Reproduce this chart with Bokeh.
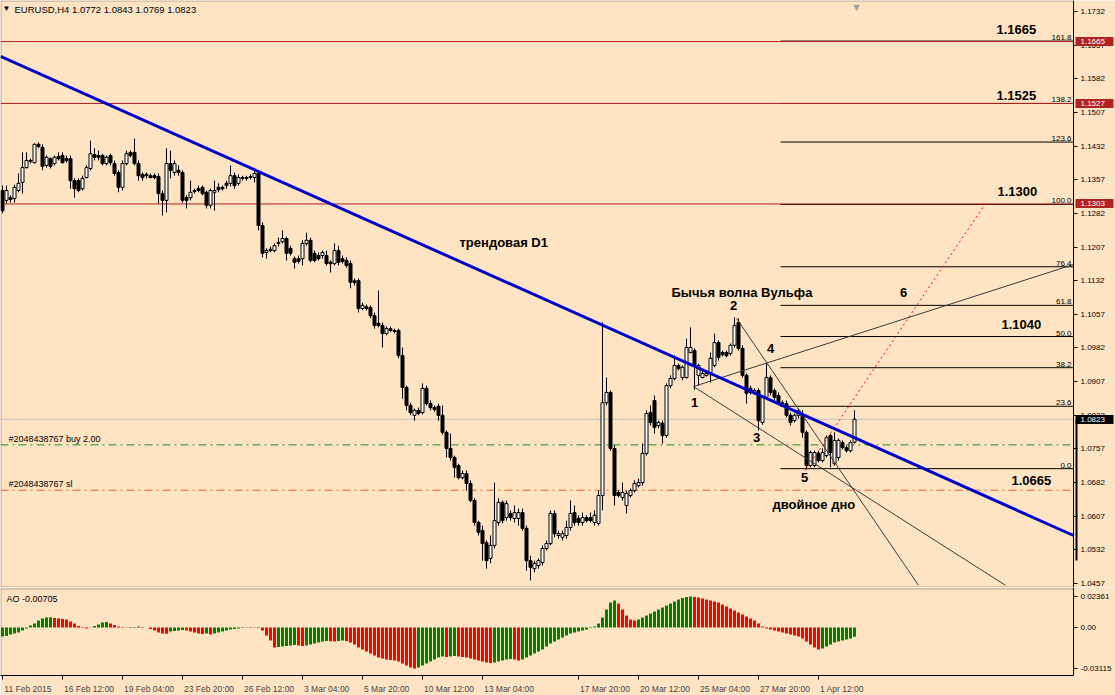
from bokeh.plotting import figure
from bokeh.layouts import column
from bokeh.models import Range1d, FixedTicker, Label, ColumnDataSource, LinearAxis, BoxAnnotation
from bokeh.embed import file_html
from bokeh.resources import INLINE

# ---------------- data (EURUSD H4) ----------------
opens = [1.1333, 1.1311, 1.1317, 1.1315, 1.1333, 1.1351, 1.1384, 1.1400, 1.1395, 1.1436,
         1.1429, 1.1389, 1.1404, 1.1393, 1.1409, 1.1411, 1.1404, 1.1404, 1.1355, 1.1355,
         1.1337, 1.1362, 1.1382, 1.1413, 1.1411, 1.1411, 1.1393, 1.1411, 1.1393, 1.1373,
         1.1340, 1.1393, 1.1418, 1.1418, 1.1393, 1.1369, 1.1369, 1.1366, 1.1366, 1.1364,
         1.1326, 1.1311, 1.1393, 1.1373, 1.1378, 1.1373, 1.1317, 1.1317, 1.1333, 1.1337,
         1.1340, 1.1329, 1.1300, 1.1329, 1.1340, 1.1340, 1.1349, 1.1349, 1.1366, 1.1349,
         1.1362, 1.1362, 1.1364, 1.1362, 1.1371, 1.1255, 1.1195, 1.1199, 1.1199, 1.1215,
         1.1219, 1.1226, 1.1204, 1.1181, 1.1181, 1.1181, 1.1215, 1.1222, 1.1193, 1.1188,
         1.1188, 1.1188, 1.1173, 1.1170, 1.1199, 1.1181, 1.1177, 1.1170, 1.1132, 1.1132,
         1.1070, 1.1074, 1.1072, 1.1054, 1.1037, 1.1032, 1.1014, 1.1025, 1.1021, 1.1021,
         1.0965, 1.0894, 1.0854, 1.0832, 1.0843, 1.0838, 1.0892, 1.0858, 1.0849, 1.0852,
         1.0832, 1.0794, 1.0758, 1.0738, 1.0720, 1.0693, 1.0702, 1.0680, 1.0642, 1.0593,
         1.0575, 1.0548, 1.0513, 1.0542, 1.0593, 1.0638, 1.0604, 1.0613, 1.0602, 1.0602,
         1.0615, 1.0580, 1.0508, 1.0490, 1.0497, 1.0504, 1.0535, 1.0546, 1.0613, 1.0564,
         1.0560, 1.0564, 1.0582, 1.0615, 1.0602, 1.0593, 1.0604, 1.0604, 1.0593, 1.0591,
         1.0653, 1.0860, 1.0883, 1.0758, 1.0660, 1.0649, 1.0631, 1.0653, 1.0664, 1.0675,
         1.0682, 1.0747, 1.0838, 1.0865, 1.0809, 1.0814, 1.0787, 1.0898, 1.0914, 1.0943,
         1.0916, 1.0916, 1.0972, 1.0976, 1.0921, 1.0916, 1.0921, 1.0927, 1.0943, 1.0994,
         1.0972, 1.0972, 1.0970, 1.0988, 1.1039, 1.0981, 1.0921, 1.0892, 1.0883, 1.0887,
         1.0816, 1.0872, 1.0916, 1.0887, 1.0876, 1.0858, 1.0858, 1.0832, 1.0820, 1.0832,
         1.0832, 1.0794, 1.0720, 1.0720, 1.0747, 1.0731, 1.0742, 1.0787, 1.0724, 1.0738,
         1.0771, 1.0760, 1.0753, 1.0772]
highs = [1.1344, 1.1344, 1.1322, 1.1346, 1.1371, 1.1418, 1.1418, 1.1404, 1.1438, 1.1440,
         1.1436, 1.1411, 1.1407, 1.1411, 1.1418, 1.1418, 1.1411, 1.1411, 1.1360, 1.1360,
         1.1366, 1.1389, 1.1444, 1.1427, 1.1422, 1.1415, 1.1411, 1.1415, 1.1400, 1.1378,
         1.1400, 1.1422, 1.1422, 1.1449, 1.1400, 1.1373, 1.1373, 1.1371, 1.1371, 1.1371,
         1.1333, 1.1427, 1.1422, 1.1400, 1.1389, 1.1378, 1.1322, 1.1355, 1.1337, 1.1344,
         1.1344, 1.1333, 1.1337, 1.1355, 1.1349, 1.1344, 1.1355, 1.1389, 1.1373, 1.1369,
         1.1366, 1.1366, 1.1369, 1.1378, 1.1373, 1.1262, 1.1204, 1.1208, 1.1215, 1.1228,
         1.1244, 1.1230, 1.1210, 1.1186, 1.1188, 1.1222, 1.1239, 1.1228, 1.1199, 1.1195,
         1.1199, 1.1199, 1.1177, 1.1215, 1.1210, 1.1188, 1.1184, 1.1177, 1.1137, 1.1137,
         1.1083, 1.1079, 1.1077, 1.1061, 1.1110, 1.1039, 1.1030, 1.1030, 1.1025, 1.1025,
         1.0983, 1.0898, 1.0860, 1.0847, 1.0849, 1.0903, 1.0898, 1.0865, 1.0854, 1.0858,
         1.0854, 1.0798, 1.0791, 1.0742, 1.0724, 1.0709, 1.0709, 1.0687, 1.0647, 1.0597,
         1.0586, 1.0553, 1.0564, 1.0682, 1.0647, 1.0642, 1.0642, 1.0620, 1.0631, 1.0624,
         1.0624, 1.0586, 1.0519, 1.0508, 1.0513, 1.0542, 1.0553, 1.0620, 1.0620, 1.0575,
         1.0575, 1.0597, 1.0642, 1.0631, 1.0609, 1.0615, 1.0609, 1.0615, 1.0620, 1.0664,
         1.1039, 1.0916, 1.0887, 1.0765, 1.0664, 1.0682, 1.0664, 1.0669, 1.0687, 1.0691,
         1.0769, 1.0843, 1.0854, 1.0876, 1.0820, 1.0820, 1.0903, 1.0921, 1.0965, 1.0947,
         1.0943, 1.1003, 1.1028, 1.0981, 1.0947, 1.0932, 1.0927, 1.0972, 1.1014, 1.0999,
         1.0976, 1.0976, 1.0992, 1.1050, 1.1048, 1.0988, 1.0925, 1.0898, 1.0892, 1.0892,
         1.0876, 1.0947, 1.0921, 1.0892, 1.0883, 1.0865, 1.0865, 1.0838, 1.0836, 1.0847,
         1.0843, 1.0798, 1.0753, 1.0753, 1.0753, 1.0758, 1.0787, 1.0791, 1.0794, 1.0780,
         1.0776, 1.0765, 1.0776, 1.0843]
lows = [1.1282, 1.1304, 1.1306, 1.1306, 1.1329, 1.1326, 1.1382, 1.1393, 1.1393, 1.1427,
        1.1378, 1.1384, 1.1382, 1.1389, 1.1400, 1.1393, 1.1395, 1.1337, 1.1317, 1.1329,
        1.1333, 1.1360, 1.1378, 1.1400, 1.1400, 1.1389, 1.1389, 1.1389, 1.1366, 1.1329,
        1.1333, 1.1389, 1.1407, 1.1389, 1.1355, 1.1355, 1.1360, 1.1360, 1.1358, 1.1304,
        1.1277, 1.1284, 1.1360, 1.1366, 1.1366, 1.1306, 1.1293, 1.1311, 1.1326, 1.1329,
        1.1322, 1.1293, 1.1293, 1.1288, 1.1329, 1.1333, 1.1337, 1.1342, 1.1337, 1.1344,
        1.1355, 1.1355, 1.1358, 1.1351, 1.1244, 1.1184, 1.1181, 1.1195, 1.1195, 1.1208,
        1.1215, 1.1177, 1.1188, 1.1159, 1.1170, 1.1166, 1.1210, 1.1173, 1.1173, 1.1177,
        1.1181, 1.1166, 1.1150, 1.1166, 1.1166, 1.1170, 1.1161, 1.1115, 1.1121, 1.1061,
        1.1066, 1.1066, 1.1048, 1.1025, 1.1028, 1.0983, 1.1010, 1.1017, 1.1014, 1.0959,
        1.0869, 1.0843, 1.0832, 1.0820, 1.0832, 1.0834, 1.0854, 1.0843, 1.0840, 1.0820,
        1.0789, 1.0738, 1.0731, 1.0693, 1.0689, 1.0689, 1.0664, 1.0638, 1.0586, 1.0564,
        1.0508, 1.0490, 1.0502, 1.0535, 1.0586, 1.0591, 1.0597, 1.0597, 1.0593, 1.0586,
        1.0575, 1.0486, 1.0464, 1.0482, 1.0490, 1.0497, 1.0531, 1.0542, 1.0560, 1.0557,
        1.0553, 1.0557, 1.0575, 1.0586, 1.0586, 1.0586, 1.0593, 1.0593, 1.0586, 1.0586,
        1.0620, 1.0854, 1.0753, 1.0631, 1.0649, 1.0642, 1.0613, 1.0649, 1.0660, 1.0671,
        1.0675, 1.0742, 1.0809, 1.0791, 1.0803, 1.0769, 1.0782, 1.0892, 1.0910, 1.0932,
        1.0910, 1.0914, 1.0970, 1.0889, 1.0898, 1.0914, 1.0918, 1.0905, 1.0939, 1.0954,
        1.0963, 1.0961, 1.0965, 1.0983, 1.0976, 1.0916, 1.0858, 1.0878, 1.0881, 1.0798,
        1.0811, 1.0869, 1.0876, 1.0865, 1.0854, 1.0854, 1.0827, 1.0809, 1.0816, 1.0825,
        1.0782, 1.0712, 1.0716, 1.0716, 1.0727, 1.0727, 1.0738, 1.0716, 1.0720, 1.0731,
        1.0756, 1.0749, 1.0749, 1.0769]
closes = [1.1288, 1.1333, 1.1313, 1.1340, 1.1349, 1.1384, 1.1400, 1.1398, 1.1436, 1.1431,
          1.1387, 1.1407, 1.1387, 1.1407, 1.1404, 1.1395, 1.1400, 1.1355, 1.1337, 1.1333,
          1.1360, 1.1384, 1.1415, 1.1407, 1.1407, 1.1393, 1.1407, 1.1395, 1.1371, 1.1340,
          1.1393, 1.1415, 1.1411, 1.1393, 1.1366, 1.1362, 1.1366, 1.1362, 1.1362, 1.1326,
          1.1311, 1.1393, 1.1378, 1.1393, 1.1373, 1.1311, 1.1311, 1.1329, 1.1331, 1.1333,
          1.1326, 1.1300, 1.1333, 1.1333, 1.1335, 1.1337, 1.1344, 1.1366, 1.1344, 1.1362,
          1.1360, 1.1360, 1.1362, 1.1371, 1.1255, 1.1193, 1.1199, 1.1202, 1.1210, 1.1217,
          1.1226, 1.1193, 1.1193, 1.1173, 1.1175, 1.1215, 1.1222, 1.1177, 1.1177, 1.1181,
          1.1195, 1.1170, 1.1170, 1.1199, 1.1173, 1.1175, 1.1166, 1.1128, 1.1128, 1.1070,
          1.1077, 1.1070, 1.1054, 1.1032, 1.1032, 1.1014, 1.1025, 1.1021, 1.1019, 1.0965,
          1.0894, 1.0854, 1.0838, 1.0843, 1.0836, 1.0892, 1.0858, 1.0849, 1.0845, 1.0832,
          1.0794, 1.0758, 1.0738, 1.0716, 1.0693, 1.0702, 1.0680, 1.0642, 1.0593, 1.0571,
          1.0546, 1.0508, 1.0542, 1.0597, 1.0638, 1.0597, 1.0635, 1.0604, 1.0615, 1.0615,
          1.0580, 1.0508, 1.0493, 1.0502, 1.0508, 1.0535, 1.0546, 1.0613, 1.0568, 1.0568,
          1.0568, 1.0582, 1.0613, 1.0593, 1.0593, 1.0604, 1.0597, 1.0597, 1.0609, 1.0653,
          1.0860, 1.0883, 1.0758, 1.0653, 1.0653, 1.0660, 1.0658, 1.0664, 1.0680, 1.0682,
          1.0747, 1.0836, 1.0816, 1.0805, 1.0816, 1.0787, 1.0898, 1.0914, 1.0943, 1.0936,
          1.0939, 1.0983, 1.0983, 1.0943, 1.0943, 1.0925, 1.0925, 1.0959, 1.0994, 1.0961,
          1.0967, 1.0965, 1.0988, 1.1032, 1.0981, 1.0921, 1.0881, 1.0883, 1.0887, 1.0820,
          1.0872, 1.0916, 1.0883, 1.0872, 1.0858, 1.0860, 1.0832, 1.0816, 1.0832, 1.0843,
          1.0794, 1.0720, 1.0749, 1.0749, 1.0731, 1.0749, 1.0782, 1.0749, 1.0776, 1.0776,
          1.0760, 1.0753, 1.0771, 1.0823]
ao_values = [-0.00684, -0.00646, -0.00532, -0.00456, -0.00380, -0.00228, -0.00076, 0.00152, 0.00304, 0.00532,
             0.00684, 0.00760, 0.00775, 0.00722, 0.00684, 0.00646, 0.00608, 0.00456, 0.00304, 0.00114,
             -0.00038, -0.00076, -0.00023, 0.00114, 0.00228, 0.00380, 0.00418, 0.00304, 0.00190, 0.00076,
             0.00038, -0.00023, -0.00038, 0.00038, 0.00076, 0.00038, -0.00005, -0.00114, -0.00228, -0.00380,
             -0.00456, -0.00479, -0.00304, -0.00266, -0.00228, -0.00190, -0.00228, -0.00304, -0.00380, -0.00456,
             -0.00494, -0.00456, -0.00532, -0.00456, -0.00380, -0.00304, -0.00228, -0.00152, -0.00114, -0.00076,
             -0.00038, -0.00023, -0.00038, 0.00023, -0.00038, -0.00228, -0.00608, -0.00988, -0.01520, -0.01482,
             -0.01444, -0.01406, -0.01368, -0.01330, -0.01368, -0.01406, -0.01368, -0.01292, -0.01216, -0.01140,
             -0.01064, -0.01026, -0.01049, -0.01064, -0.01026, -0.00988, -0.01026, -0.01140, -0.01292, -0.01520,
             -0.01672, -0.01824, -0.01976, -0.02128, -0.02280, -0.02356, -0.02432, -0.02470, -0.02508, -0.02584,
             -0.02736, -0.02888, -0.03040, -0.03115, -0.03040, -0.02888, -0.02736, -0.02584, -0.02432, -0.02280,
             -0.02204, -0.02242, -0.02204, -0.02166, -0.02204, -0.02242, -0.02280, -0.02356, -0.02432, -0.02508,
             -0.02584, -0.02660, -0.02698, -0.02660, -0.02584, -0.02508, -0.02432, -0.02394, -0.02432, -0.02508,
             -0.02432, -0.02280, -0.02128, -0.01976, -0.01824, -0.01672, -0.01444, -0.01216, -0.01064, -0.00912,
             -0.00760, -0.00608, -0.00456, -0.00380, -0.00304, -0.00228, -0.00152, -0.00038, 0.00076, 0.00304,
             0.00760, 0.01368, 0.01900, 0.02052, 0.01824, 0.01368, 0.00912, 0.00608, 0.00532, 0.00608,
             0.00760, 0.00912, 0.01064, 0.01216, 0.01368, 0.01520, 0.01672, 0.01824, 0.01976, 0.02128,
             0.02242, 0.02318, 0.02361, 0.02318, 0.02280, 0.02204, 0.02128, 0.02052, 0.01976, 0.01900,
             0.01748, 0.01596, 0.01444, 0.01292, 0.01140, 0.00988, 0.00836, 0.00684, 0.00532, 0.00304,
             0.00076, -0.00076, -0.00152, -0.00228, -0.00304, -0.00380, -0.00456, -0.00532, -0.00608, -0.00684,
             -0.00836, -0.01064, -0.01292, -0.01520, -0.01672, -0.01596, -0.01444, -0.01292, -0.01140, -0.01064,
             -0.00988, -0.00912, -0.00836, -0.00705]

price_ticks = [1.1732, 1.1657, 1.1582, 1.1507, 1.1432, 1.1357, 1.1282, 1.1207, 1.1132, 1.1057,
               1.0982, 1.0907, 1.0832, 1.0757, 1.0682, 1.0607, 1.0532, 1.0457]
ao_ticks = [0.02361, 0.0, -0.03115]
ao_tick_labels = ["0.02361", "0.00", "-0.03115"]
date_bars = [0, 15, 30, 45, 60, 75, 90, 105, 120, 144, 159, 174, 189, 204]
date_labels = ["11 Feb 2015", "16 Feb 12:00", "19 Feb 04:00", "23 Feb 20:00", "26 Feb 12:00",
               "3 Mar 04:00", "5 Mar 20:00", "10 Mar 12:00", "13 Mar 04:00", "17 Mar 20:00",
               "20 Mar 12:00", "25 Mar 04:00", "27 Mar 20:00", "1 Apr 12:00"]

red_levels = [1.1665, 1.1527, 1.1303]
bid_price = 1.0823
buy_price = 1.0766
sl_price = 1.0665
bar_marker_low = 1.0508
fib_low = 1.0713
fib_high = 1.1302
fib_levels = [0.0, 23.6, 38.2, 50.0, 61.8, 76.4, 100.0, 123.6, 138.2, 161.8]
fib_start_bar = 194.5
trend_x = [-0.5, 267.75]
trend_y = [1.1632, 1.0564]
wolfe_x0 = [172.75, 172.75, 183.5]
wolfe_y0 = [1.0896, 1.0896, 1.1048]
wolfe_x1 = [267.75, 250.75, 229.0]
wolfe_y1 = [1.1168, 1.0453, 1.0453]
target_x = [200.75, 245.75]
target_y = [1.0709, 1.1304]

# ---------------- layout constants ----------------
BG = "#FFE4C4"
FONT = "Liberation Sans"
TAG_RED = "#B22222"
X_START = -0.5
AXIS_X = 267.75                      # price-scale line position (bar units)
X_RANGE = Range1d(X_START, 278.25)   # frame runs under the price scale too
P_RANGE = Range1d(1.04481, 1.17565)
AO_RANGE = Range1d(-0.03648, 0.03040)

n = len(closes)
bars = list(range(n))
src = ColumnDataSource(dict(
    x=bars, high=highs, low=lows,
    top=[max(o, c) for o, c in zip(opens, closes)],
    bottom=[min(o, c) for o, c in zip(opens, closes)],
    fill=["black" if c < o else "white" for o, c in zip(opens, closes)],
))

p = figure(frame_width=1115, frame_height=587, x_range=X_RANGE, y_range=P_RANGE,
           x_axis_location=None, y_axis_location="right", toolbar_location=None,
           output_backend="svg", min_border=0,
           background_fill_color=BG, border_fill_color=BG, outline_line_color=None)
p.grid.visible = False

def style_scale(ax, size="8px"):
    ax.major_label_text_font = FONT
    ax.major_label_text_font_size = size
    ax.major_label_text_color = "black"
    ax.major_tick_out = 4
    ax.major_tick_in = 0
    ax.minor_tick_out = 0
    ax.minor_tick_in = 0
    ax.major_label_standoff = 3
    ax.axis_line_color = "black"

ya = p.yaxis[0]
ya.fixed_location = AXIS_X
ya.ticker = FixedTicker(ticks=price_ticks)
ya.major_label_overrides = {t: "%.4f" % t for t in price_ticks}
style_scale(ya)

# price tags: thick tick marks of extra scale axes make the tag boxes
def tag_box_axis(levels, color):
    ax = LinearAxis(fixed_location=AXIS_X + 0.5, ticker=FixedTicker(ticks=levels),
                    axis_line_color=None, major_tick_out=38, major_tick_in=0,
                    minor_tick_out=0, minor_tick_in=0,
                    major_tick_line_color=color, major_tick_line_width=9,
                    major_label_text_alpha=0.0, major_label_text_font_size="6px")
    p.add_layout(ax, "right")

tag_box_axis(red_levels, TAG_RED)
tag_box_axis([bid_price], "black")
tag_levels = red_levels + [bid_price]
tag_text_axis = LinearAxis(fixed_location=AXIS_X, ticker=FixedTicker(ticks=tag_levels),
                           major_label_overrides={t: "%.4f" % t for t in tag_levels},
                           axis_line_color=None, major_tick_out=0, major_tick_in=0,
                           minor_tick_out=0, minor_tick_in=0, major_label_standoff=7,
                           major_label_text_font=FONT, major_label_text_font_size="8px",
                           major_label_text_color="white")
p.add_layout(tag_text_axis, "right")
bar_axis = LinearAxis(fixed_location=AXIS_X + 0.625, ticker=FixedTicker(ticks=[]),
                      bounds=(bar_marker_low, bid_price), axis_line_color="black",
                      axis_line_width=2, major_tick_out=0, minor_tick_out=0,
                      major_tick_in=0, minor_tick_in=0)
p.add_layout(bar_axis, "right")

# chart frame (left / top / bottom edges; right edge is the price scale line)
p.add_layout(BoxAnnotation(left=X_START + 0.125, right=AXIS_X, top=1.17554, bottom=1.04492,
                           fill_alpha=0, line_color="black", line_width=1, level="underlay"))

# horizontal lines
def hline(levels, color, dash="solid"):
    k = len(levels)
    p.segment(x0=[X_START] * k, x1=[AXIS_X] * k, y0=levels, y1=levels,
              line_color=color, line_width=1, line_dash=dash)

hline([bid_price], "#C0C0C0")
hline([buy_price], "#1E8C1E", "8 4 2 4")
hline([sl_price], "#E8602C", "8 4 2 4")

# fibonacci
fib_prices = [fib_low + (fib_high - fib_low) * lv / 100.0 for lv in fib_levels]
p.segment(x0=[fib_start_bar] * len(fib_prices), y0=fib_prices,
          x1=[AXIS_X] * len(fib_prices), y1=fib_prices,
          line_color="black", line_width=1)
for lv, fp in zip(fib_levels, fib_prices):
    p.add_layout(Label(x=267.25, y=fp, text="%.1f" % lv, text_align="right",
                       text_baseline="bottom", y_offset=1, text_font=FONT,
                       text_font_size="8px", text_color="black"))
hline(red_levels, TAG_RED)

# candles
p.segment(x0="x", y0="low", x1="x", y1="high", source=src, line_color="black", line_width=1)
p.vbar(x="x", width=0.75, top="top", bottom="bottom", source=src,
       fill_color="fill", line_color="black", line_width=1)

# wolfe wave lines
p.segment(x0=wolfe_x0, y0=wolfe_y0, x1=wolfe_x1, y1=wolfe_y1, line_color="#3A3A3A", line_width=1)
p.line(target_x, target_y, line_color="#FF0000", line_width=1, line_dash="2 3")
# trend line D1
p.line(trend_x, trend_y, line_color="#0000CD", line_width=3)

def note(fig, text, x, y, size="13px", bold=True, align="left", color="black", baseline="middle"):
    fig.add_layout(Label(x=x, y=y, text=text, text_align=align, text_baseline=baseline,
                         text_font=FONT, text_font_size=size,
                         text_font_style="bold" if bold else "normal", text_color=color))

note(p, "EURUSD,H4  1.0772 1.0843 1.0769 1.0823", 3.0, 1.17364, size="9.5px", bold=False)
note(p, "\u25BC", 1.0, 1.17387, size="8px", bold=False, align="center")
note(p, "\u25BC", 213.5, 1.17565, size="11px", bold=False, align="center", color="#A0A0A0",
     baseline="top")
note(p, "трендовая D1", 114.25, 1.12171)
note(p, "Бычья волна Вульфа", 167.25, 1.11056)
note(p, "2", 182.75, 1.10767, align="center")
note(p, "1", 173.0, 1.08604, align="center")
note(p, "3", 188.5, 1.07824, align="center")
note(p, "4", 192.0, 1.09808, align="center")
note(p, "5", 200.5, 1.06933, align="center")
note(p, "6", 225.25, 1.11056, align="center")
note(p, "двойное дно", 192.5, 1.06331)
note(p, "1.1665", 248.5, 1.16919)
note(p, "1.1525", 248.5, 1.15447)
note(p, "1.1300", 248.75, 1.13307)
note(p, "1.1040", 249.75, 1.10343)
note(p, "1.0665", 252.25, 1.06866)
note(p, "#2048438767 buy 2.00", 1.5, 1.07802, size="9px", bold=False)
note(p, "#2048438767 sl", 1.5, 1.06777, size="9px", bold=False)

# ---------------- AO panel ----------------
ao_colors = ["#008000"] + ["#008000" if ao_values[i] > ao_values[i - 1] else "#FF0000"
                           for i in range(1, n)]
p2 = figure(frame_width=1115, frame_height=88, x_range=X_RANGE, y_range=AO_RANGE,
            y_axis_location="right", toolbar_location=None, output_backend="svg",
            min_border=0, min_border_bottom=20,
            background_fill_color=BG, border_fill_color=BG, outline_line_color=None)
p2.grid.visible = False
p2.add_layout(BoxAnnotation(left=X_START + 0.125, right=AXIS_X, top=0.02926, bottom=AO_RANGE.start,
                            fill_alpha=0, line_color="black", line_width=1, level="underlay"))
p2.vbar(x=bars, top=ao_values, bottom=0, width=0.75, fill_color=ao_colors, line_color=None)
ya2 = p2.yaxis[0]
ya2.fixed_location = AXIS_X
ya2.ticker = FixedTicker(ticks=ao_ticks)
ya2.major_label_overrides = dict(zip(ao_ticks, ao_tick_labels))
style_scale(ya2)

# date axis: tick marks at the bar (minor ticks), labels placed to their right
CHAR_EM = {" ": 0.278, ":": 0.278, "F": 0.611, "e": 0.556, "b": 0.556, "M": 0.833,
           "a": 0.556, "r": 0.333, "A": 0.667, "p": 0.556}
XFS = 8.5
def label_center(bar, text):
    w = sum(CHAR_EM.get(ch, 0.556) for ch in text) * XFS
    return bar + (w / 2.0 + 1.5) / 4.0
centers = [label_center(b, t) for b, t in zip(date_bars, date_labels)]
xa = p2.xaxis[0]
xa.ticker = FixedTicker(ticks=centers, minor_ticks=date_bars)
xa.major_label_overrides = dict(zip(centers, date_labels))
xa.bounds = (X_START, AXIS_X)
xa.major_label_text_font = FONT
xa.major_label_text_font_size = "%.1fpx" % XFS
xa.major_tick_out = 0
xa.major_tick_in = 0
xa.minor_tick_out = 4
xa.minor_tick_in = 0
xa.minor_tick_line_color = "black"
xa.major_label_standoff = 4
xa.axis_line_color = "black"
note(p2, "AO -0.00705", 1.0, 0.02204, size="9px", bold=False)

layout = column(p, p2, spacing=0)
open("out.html", "w").write(file_html(layout, INLINE, "EURUSD H4"))
